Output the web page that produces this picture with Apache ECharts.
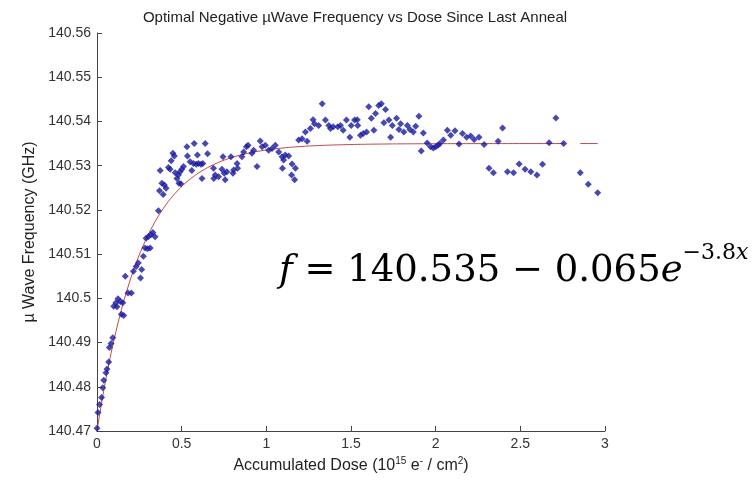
<!DOCTYPE html>
<html>
<head>
<meta charset="utf-8">
<script src="https://cdn.jsdelivr.net/npm/echarts@6/dist/echarts.min.js"></script>
<style>html,body{margin:0;padding:0;background:#fff}#c{width:754px;height:481px}</style>
</head>
<body>
<div id="c"></div>
<script>
// Measured points (dose in 1e15 e-/cm^2, frequency in GHz)
const doseValues = [
  0.000,0.006,0.015,0.027,0.034,0.040,0.053,0.059,0.069,0.073,
  0.083,0.093,0.099,0.112,0.118,0.124,0.138,0.152,0.144,0.158,
  0.167,0.183,0.203,0.215,0.231,0.244,0.257,0.264,0.274,0.284,
  0.299,0.314,0.290,0.304,0.318,0.330,0.343,0.363,0.369,0.391,
  0.383,0.398,0.408,0.373,0.422,0.438,0.448,0.457,0.432,0.462,
  0.472,0.481,0.491,0.501,0.511,0.484,0.495,0.531,0.534,0.550,
  0.560,0.574,0.593,0.570,0.586,0.599,0.614,0.639,0.653,0.620,
  0.625,0.688,0.698,0.690,0.718,0.744,0.738,0.757,0.751,0.767,
  0.791,0.807,0.803,0.827,0.830,0.856,0.866,0.882,0.892,0.915,
  0.925,0.945,0.964,0.975,0.994,1.014,1.034,1.053,1.073,1.093,
  1.112,1.102,1.095,1.132,1.152,1.172,1.149,1.167,1.191,1.211,
  1.231,1.241,1.260,1.276,1.284,1.309,1.330,1.349,1.369,1.379,
  1.395,1.422,1.438,1.454,1.473,1.493,1.501,1.521,1.537,1.540,
  1.556,1.572,1.592,1.605,1.620,1.635,1.645,1.664,1.679,1.704,
  1.694,1.724,1.744,1.734,1.769,1.783,1.793,1.812,1.833,1.848,
  1.868,1.882,1.901,1.915,1.927,1.950,1.970,1.986,2.000,2.014,
  2.025,2.046,2.069,2.089,2.114,2.138,2.158,2.183,2.207,2.227,
  2.256,2.286,2.315,2.341,2.369,2.395,2.424,2.460,2.493,2.528,
  2.562,2.598,2.631,2.670,2.710,2.756,2.854,2.901,2.957
];
const freqValues = [
  140.4706,140.4742,140.4760,140.4776,140.4798,140.4815,140.4832,140.4840,140.4856,140.4889,
  140.4898,140.4911,140.4982,140.4990,140.4981,140.4999,140.4993,140.4990,140.4964,140.4961,
  140.5050,140.5012,140.5012,140.5061,140.5072,140.5080,140.5046,140.5065,140.5095,140.5114,
  140.5112,140.5114,140.5136,140.5140,140.5144,140.5149,140.5139,140.5198,140.5243,140.5235,
  140.5260,140.5256,140.5249,140.5289,140.5296,140.5311,140.5328,140.5322,140.5292,140.5284,
  140.5271,140.5279,140.5286,140.5292,140.5298,140.5260,140.5259,140.5343,140.5322,140.5309,
  140.5289,140.5350,140.5324,140.5305,140.5303,140.5305,140.5303,140.5350,140.5327,140.5271,
  140.5305,140.5294,140.5279,140.5271,140.5275,140.5320,140.5292,140.5268,140.5283,140.5286,
  140.5320,140.5290,140.5283,140.5305,140.5294,140.5320,140.5331,140.5343,140.5346,140.5328,
  140.5335,140.5298,140.5356,140.5343,140.5346,140.5335,140.5339,140.5346,140.5331,140.5320,
  140.5324,140.5313,140.5294,140.5322,140.5304,140.5294,140.5279,140.5268,140.5358,140.5361,
  140.5376,140.5355,140.5384,140.5404,140.5395,140.5391,140.5440,140.5403,140.5391,140.5384,
  140.5388,140.5388,140.5391,140.5380,140.5403,140.5364,140.5391,140.5403,140.5404,140.5391,
  140.5369,140.5373,140.5376,140.5433,140.5407,140.5380,140.5418,140.5436,140.5440,140.5427,
  140.5397,140.5403,140.5391,140.5364,140.5407,140.5382,140.5395,140.5376,140.5391,140.5382,
  140.5376,140.5389,140.5412,140.5333,140.5374,140.5351,140.5343,140.5340,140.5343,140.5346,
  140.5350,140.5358,140.5380,140.5369,140.5379,140.5349,140.5373,140.5364,140.5367,140.5359,
  140.5364,140.5348,140.5294,140.5284,140.5355,140.5385,140.5286,140.5284,140.5304,140.5292,
  140.5286,140.5279,140.5303,140.5352,140.5408,140.5350,140.5284,140.5258,140.5239
];
// Fit shown on the chart: f = 140.535 - 0.065 e^(-3.8x)
const fitA = 140.535, fitB = 0.065, fitK = 3.8;
const xTicks = [0, 0.5, 1, 1.5, 2, 2.5, 3];

const scatterData = doseValues.map((d, i) => [d, freqValues[i]]);
const sortedDose = doseValues.slice().sort((a, b) => a - b);
const fitData = [];
sortedDose.forEach((d, i) => {
  if (i > 0 && d - sortedDose[i - 1] > 0.08) fitData.push([null, null]);
  fitData.push([d, fitA - fitB * Math.exp(-fitK * d)]);
});

const chart = echarts.init(document.getElementById('c'), null, {renderer: 'canvas'});
const sans = 'Liberation Sans, Arial, sans-serif';
const serif = 'DejaVu Serif';
chart.setOption({
  animation: false,
  backgroundColor: '#fff',
  title: {
    text: 'Optimal Negative \u00b5Wave Frequency vs Dose Since Last Anneal',
    left: 350, top: 5, textAlign: 'center',
    textStyle: {fontFamily: sans, fontSize: 15, fontWeight: 'normal', color: '#222'}
  },
  grid: {left: 97, right: 149, top: 33, bottom: 49, containLabel: false},
  xAxis: {
    type: 'value', min: 0, max: 3, interval: 0.5,
    name: 'Accumulated Dose (10{sup|15} e{sup|-} / cm{sup|2})',
    nameLocation: 'middle', nameGap: 25,
    nameTextStyle: {fontFamily: sans, fontSize: 16, color: '#222', lineHeight: 20,
      rich: {sup: {fontFamily: sans, fontSize: 10, verticalAlign: 'top', lineHeight: 12, color: '#222'}}},
    axisLine: {show: true, onZero: false, lineStyle: {color: '#444', width: 1}},
    axisTick: {show: true, inside: true, length: 5, lineStyle: {color: '#444'}},
    axisLabel: {fontFamily: sans, fontSize: 14, color: '#333', margin: 6,
      formatter: v => String(xTicks.find(t => Math.abs(t - v) < 1e-9) ?? v)},
    splitLine: {show: false}
  },
  yAxis: {
    type: 'value', min: 140.47, max: 140.56, interval: 0.01,
    name: '\u00b5 Wave Frequency (GHz)', nameLocation: 'middle', nameGap: 57,
    nameTextStyle: {fontFamily: sans, fontSize: 16, color: '#222'},
    axisLine: {show: true, onZero: false, lineStyle: {color: '#444', width: 1}},
    axisTick: {show: true, inside: true, length: 5, lineStyle: {color: '#444'}},
    axisLabel: {fontFamily: sans, fontSize: 14, color: '#333', margin: 6,
      formatter: v => String(+v.toFixed(2))},
    splitLine: {show: false}
  },
  series: [
    {
      type: 'line', data: fitData, showSymbol: false, connectNulls: false,
      lineStyle: {color: '#c04848', width: 1}, z: 2, silent: true
    },
    {
      type: 'scatter', data: scatterData, symbol: 'diamond', symbolSize: 7,
      itemStyle: {color: '#1a1aa0'}, z: 3
    }
  ],
  graphic: [
    {type: 'text', x: 279, y: 271,
      style: {text: '{i|f} = 140.535 \u2212 0.065{i|e}{s|\u22123.8}{si|x}', fontFamily: serif, fontSize: 37,
        fill: '#000', verticalAlign: 'middle',
        rich: {
          n: {fontFamily: serif, fontSize: 37, lineHeight: 58},
          i: {fontStyle: 'italic', fontFamily: serif, fontSize: 37, lineHeight: 58},
          s: {fontFamily: serif, fontSize: 22, lineHeight: 22, verticalAlign: 'top'},
          si: {fontStyle: 'italic', fontFamily: serif, fontSize: 22, lineHeight: 22, verticalAlign: 'top'}
        }}}
  ]
});
</script>
</body>
</html>
